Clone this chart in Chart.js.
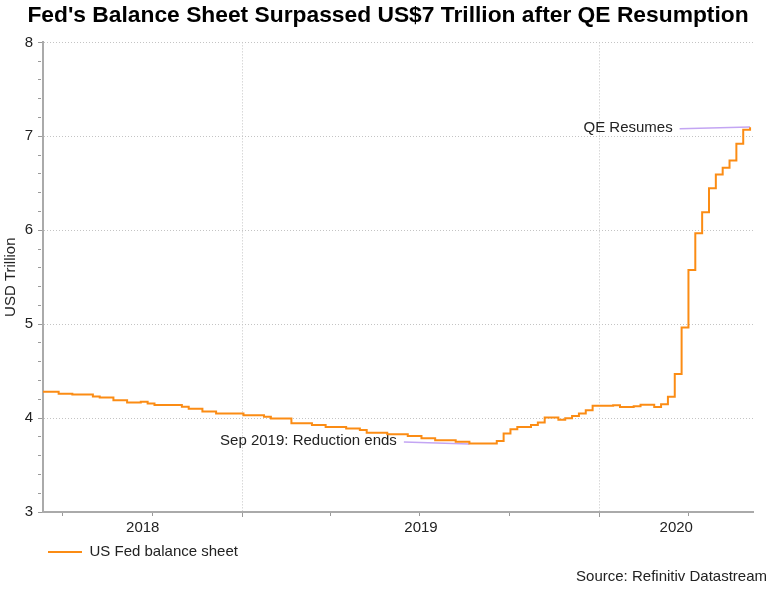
<!DOCTYPE html>
<html>
<head>
<meta charset="utf-8">
<title>Fed's Balance Sheet</title>
<script src="https://cdn.jsdelivr.net/npm/chart.js@4.4.1/dist/chart.umd.min.js"></script>
<style>
  html, body { margin: 0; padding: 0; background: #fff; }
  #wrap { width: 778px; height: 601px; }
</style>
</head>
<body>
<div id="wrap"><canvas id="chart"></canvas></div>
<script>
// Fed balance sheet, USD trillion - weekly dates where the level changes
const dates = [
  '2018-06-06', '2018-06-27', '2018-07-11', '2018-08-01', '2018-08-08', '2018-08-22',
  '2018-09-05', '2018-09-19', '2018-09-26', '2018-10-03', '2018-10-31', '2018-11-07',
  '2018-11-21', '2018-12-05', '2019-01-02', '2019-01-23', '2019-01-30', '2019-02-20',
  '2019-03-13', '2019-03-27', '2019-04-17', '2019-05-01', '2019-05-08', '2019-05-29',
  '2019-06-19', '2019-07-03', '2019-07-17', '2019-08-07', '2019-08-21', '2019-09-18',
  '2019-09-25', '2019-10-02', '2019-10-09', '2019-10-23', '2019-10-30', '2019-11-06',
  '2019-11-20', '2019-11-27', '2019-12-04', '2019-12-11', '2019-12-18', '2019-12-25',
  '2020-01-15', '2020-01-22', '2020-02-05', '2020-02-12', '2020-02-26', '2020-03-04',
  '2020-03-11', '2020-03-18', '2020-03-25', '2020-04-01', '2020-04-08', '2020-04-15',
  '2020-04-22', '2020-04-29', '2020-05-06', '2020-05-13', '2020-05-20', '2020-05-27',
  '2020-06-03'
];
const values = [
  4.28, 4.26, 4.25, 4.23, 4.22, 4.19,
  4.165, 4.175, 4.155, 4.14, 4.12, 4.10,
  4.07, 4.05, 4.03, 4.015, 3.995, 3.945,
  3.927, 3.906, 3.888, 3.874, 3.845, 3.828,
  3.81, 3.786, 3.764, 3.749, 3.728, 3.757,
  3.835, 3.882, 3.906, 3.927, 3.952, 4.005,
  3.981, 3.999, 4.023, 4.048, 4.084, 4.13,
  4.137, 4.119, 4.127, 4.141, 4.119, 4.148,
  4.226, 4.468, 4.965, 5.577, 5.967, 6.191,
  6.447, 6.593, 6.664, 6.742, 6.92, 7.069,
  7.097
];

const xMin = '2018-06-11';
const xMax = '2020-06-06';
const quarterTicks = ['2018-07-01', '2018-10-01', '2019-01-01', '2019-04-01',
                      '2019-07-01', '2019-10-01', '2020-01-01', '2020-04-01'];
const yearStarts = ['2019-01-01', '2020-01-01'];
const yearLabels = ['2018', '2019', '2020'];
const yTickLabels = [3, 4, 5, 6, 7, 8];

const annoLabels = ['Sep 2019: Reduction ends', 'QE Resumes'];
const annoFromDates = ['2019-06-15', '2020-03-23'];
const annoFromValues = [3.745, 7.08];
const annoToDates = ['2019-08-21', '2020-06-03'];
const annoToValues = [3.725, 7.10];

const FONT = '"Liberation Sans", Arial, Helvetica, sans-serif';
const t = s => Date.parse(s + 'T00:00:00Z');
const yearStartSet = new Set(yearStarts.map(t));

Chart.defaults.font.family = FONT;
Chart.defaults.font.size = 15;
Chart.defaults.color = '#222';

// callout lines + texts
const callouts = {
  id: 'callouts',
  beforeDatasetsDraw(chart) {
    const { ctx, scales: { x, y } } = chart;
    ctx.save();
    annoLabels.forEach((label, i) => {
      const x1 = x.getPixelForValue(t(annoFromDates[i]));
      const y1 = y.getPixelForValue(annoFromValues[i]);
      const x2 = x.getPixelForValue(t(annoToDates[i]));
      const y2 = y.getPixelForValue(annoToValues[i]);
      ctx.strokeStyle = '#c3a5f3';
      ctx.lineWidth = 1.5;
      ctx.beginPath();
      ctx.moveTo(x1, y1);
      ctx.lineTo(x2, y2);
      ctx.stroke();
      ctx.fillStyle = '#222';
      ctx.font = '15px ' + FONT;
      ctx.textAlign = 'right';
      ctx.textBaseline = 'middle';
      ctx.fillText(label, x1 - 7, y1 - 1);
    });
    ctx.restore();
  }
};

new Chart(document.getElementById('chart'), {
  type: 'line',
  data: {
    datasets: [{
      label: 'US Fed balance sheet',
      data: dates.map((d, i) => ({ x: t(d), y: values[i] })),
      borderColor: '#fb8c14',
      backgroundColor: '#fb8c14',
      borderWidth: 2,
      stepped: 'before',
      pointRadius: 0,
      fill: false
    }]
  },
  options: {
    responsive: true,
    maintainAspectRatio: false,
    animation: false,
    layout: { padding: { left: 9, right: 11, top: 0, bottom: 0 } },
    scales: {
      x: {
        type: 'linear',
        min: t(xMin),
        max: t(xMax),
        afterBuildTicks: (axis) => {
          const ticks = quarterTicks.map(d => ({ value: t(d) }));
          const bounds = [t(xMin), ...yearStarts.map(t), t(xMax)];
          yearLabels.forEach((lab, i) => {
            ticks.push({ value: (bounds[i] + bounds[i + 1]) / 2, yr: lab });
          });
          ticks.sort((a, b) => a.value - b.value);
          axis.ticks = ticks;
        },
        afterFit: (scale) => { scale.height = 27.5; },
        ticks: {
          autoSkip: false,
          maxRotation: 0,
          padding: 2,
          color: '#222',
          callback: (v, i, ticks) => ticks[i].yr || ''
        },
        grid: {
          tickLength: 5,
          color: (c) => (c.tick && yearStartSet.has(c.tick.value)) ? '#c4c4c4' : 'transparent',
          tickColor: (c) => (c.tick && c.tick.yr) ? 'transparent' : '#9a9a9a',
          tickWidth: 1,
          tickBorderDash: (c) => (c.tick && yearStartSet.has(c.tick.value)) ? [] : [3, 30]
        },
        border: { color: '#aaaaaa', width: 2, dash: [1, 2] }
      },
      y: {
        min: 3,
        max: 8,
        afterBuildTicks: (axis) => {
          axis.ticks = Array.from({ length: 26 }, (_, i) => ({ value: Math.round((3 + i * 0.2) * 10) / 10 }));
        },
        afterFit: (scale) => { scale.width = 34; },
        ticks: {
          autoSkip: false,
          padding: 5,
          color: '#222',
          callback: (v) => yTickLabels.includes(v) ? String(v) : ''
        },
        grid: {
          tickLength: 5,
          color: (c) => (c.tick && Number.isInteger(c.tick.value) && c.tick.value > 3) ? '#c4c4c4' : 'transparent',
          tickColor: '#9a9a9a',
          tickWidth: 1,
          tickBorderDash: (c) => (c.tick && Number.isInteger(c.tick.value)) ? [] : [3, 30]
        },
        border: { color: '#aaaaaa', width: 2, dash: [1, 2] },
        title: {
          display: true,
          text: 'USD Trillion',
          color: '#222',
          font: { size: 15 },
          padding: { top: -7, bottom: 0 }
        }
      },
      yRight: {
        type: 'linear',
        position: 'right',
        grid: { display: false, drawTicks: false },
        border: { display: false },
        ticks: { display: false },
        afterFit: (scale) => { scale.width = 14; }
      }
    },
    plugins: {
      title: {
        display: true,
        text: "Fed's Balance Sheet Surpassed US$7 Trillion after QE Resumption",
        color: '#000',
        font: { size: 22.8, weight: 'bold' },
        padding: { top: 2, bottom: 13 }
      },
      subtitle: {
        display: true,
        text: 'Source: Refinitiv Datastream',
        position: 'bottom',
        align: 'end',
        color: '#222',
        font: { size: 15 },
        padding: { top: -1.5, bottom: 15 }
      },
      legend: {
        position: 'bottom',
        align: 'start',
        fullSize: false,
        labels: {
          boxWidth: 34,
          boxHeight: 2,
          padding: 5,
          color: '#222',
          font: { size: 15 },
          generateLabels: (chart) => Chart.defaults.plugins.legend.labels.generateLabels(chart)
            .map(item => Object.assign(item, { lineWidth: 0, fillStyle: '#fb8c14' }))
        }
      },
      tooltip: { enabled: false }
    }
  },
  plugins: [callouts]
});
</script>
</body>
</html>
